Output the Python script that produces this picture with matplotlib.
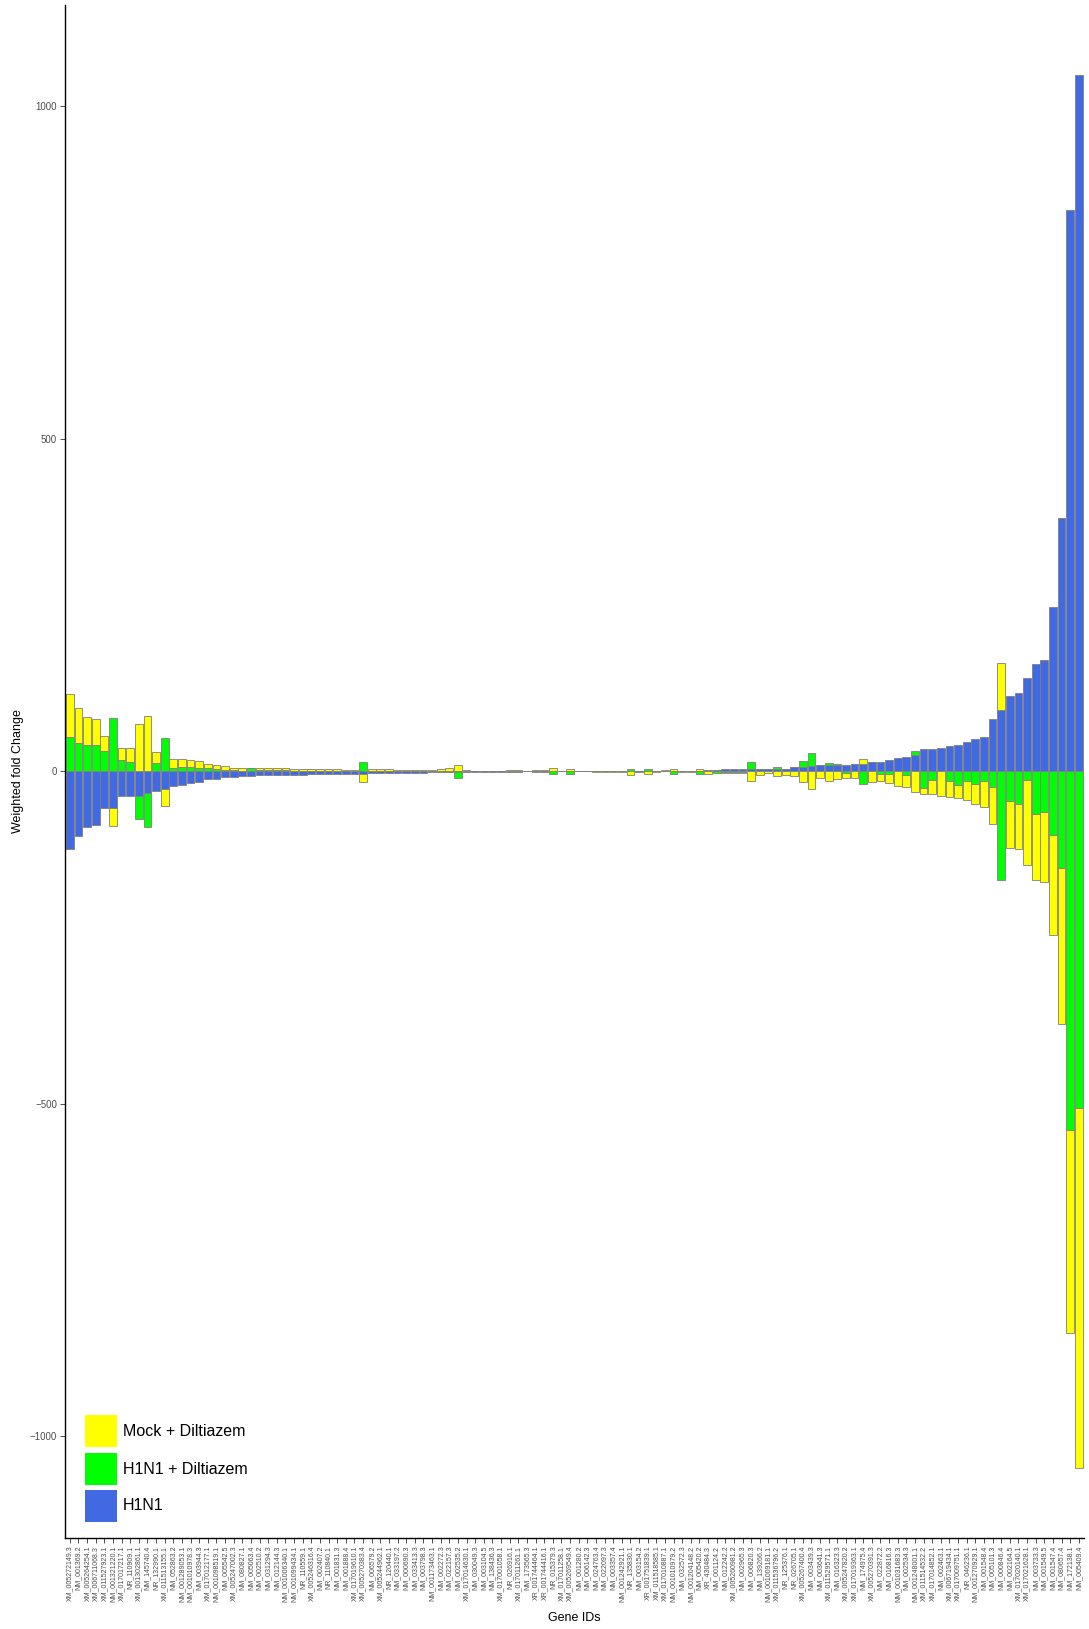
import numpy as np
import matplotlib
matplotlib.use("Agg")
import matplotlib.pyplot as plt
from matplotlib.patches import Rectangle

plt.rcParams['font.family'] = ['Liberation Sans', 'DejaVu Sans']

genes = [
    "XM_005272149.3", "NM_001369.2", "XM_005264254.1", "XM_006711068.3", "XM_011527923.1",
    "NM_001321220.1", "XM_017017217.1", "NR_110909.1", "XM_001302861.1", "NM_145740.4",
    "NR_132990.1", "XM_011513155.1", "NM_052863.2", "NM_001289053.1", "NM_001010978.3",
    "NM_003944.3", "XM_017012177.1", "NM_001098519.1", "NM_005542.5", "XM_005247002.3",
    "NM_080827.1", "NM_005063.4", "NM_002510.2", "NM_031294.3", "NM_012144.3",
    "NM_001006340.1", "NM_001099434.1", "NR_110559.1", "XM_005246316.4", "NM_002407.2",
    "NR_110840.1", "NM_001831.3", "NM_001888.4", "XM_017019610.1", "XM_005270383.4",
    "NM_006579.2", "XM_005244962.1", "NR_120440.1", "NM_033197.2", "NM_000690.3",
    "NM_033413.3", "NM_003798.3", "NM_001173463.1", "NM_002272.3", "NM_022157.3",
    "NM_002535.2", "XM_017014630.1", "NM_030049.3", "NM_003104.5", "NM_138436.3",
    "XM_017001058.1", "NR_026916.1", "XM_017011261.1", "NM_173565.3", "XR_001744464.1",
    "XR_001744416.1", "NR_015379.3", "XM_017011258.1", "XM_005269549.4", "NM_001280.2",
    "NM_006142.3", "NM_024763.4", "NM_022097.3", "NM_003357.4", "NM_001242921.1",
    "NR_135830.1", "NM_003154.2", "XR_001751839.1", "XM_011518585.1", "XM_017010887.1",
    "NM_001010979.2", "NM_032572.3", "NM_001204148.2", "NM_005420.2", "XR_430484.3",
    "NM_001124.2", "NM_012242.2", "XM_005260981.2", "NM_002965.3", "NM_006820.3",
    "NM_139266.2", "NM_001009181.1", "XM_011536796.2", "NR_125376.1", "NR_026705.1",
    "XM_005267400.4", "NM_003439.3", "NM_003641.3", "XM_011529571.1", "NM_016323.3",
    "XM_005247820.2", "XM_017019363.1", "NM_174975.4", "XM_005270391.3", "NM_022872.2",
    "NM_016816.3", "NM_001031683.3", "NM_002534.3", "NM_001248001.1", "XM_011514532.2",
    "XM_017014852.1", "NM_002463.1", "XM_006719434.1", "XM_017009751.1", "NR_046236.1",
    "NM_001270929.1", "NM_001548.4", "NM_005101.3", "NM_000846.4", "NM_002164.5",
    "XM_017020140.1", "XM_017021628.1", "NM_003733.3", "NM_001549.5", "NM_001547.4",
    "NM_080657.4", "NM_172138.1", "NM_005409.4",
]

h1n1 = [
    -117.5, -97, -84, -81, -55, -55, -37, -37, -37, -33.5,
    -30, -27, -22.5, -21, -18.5, -16, -12.5, -12, -9.5, -8.5,
    -8, -7, -6.5, -6, -6, -6, -6, -5.5, -5, -4.5,
    -4.5, -4, -4, -4, -5, -3.5, -3.5, -3, -3, -3,
    -2.5, -2.5, -2, -2, -1.5, -1, -1, -1, -0.8, -0.8,
    -0.6, -1, -0.8, -0.5, -1, -1, -0.5, -0.3, -0.5, -0.3,
    -0.3, -0.5, -0.5, -0.5, -0.5, -0.5, -0.5, -0.5, -0.5, -0.5,
    -0.5, -0.5, 0.5, 0.5, 2, 2, 3, 3, 3, 4,
    3, 3, 3, 3.5, 6, 7, 8, 9, 9, 10,
    10, 11, 11, 14, 13.5, 17.5, 20.5, 22, 24.5, 33,
    33, 35, 38.5, 40, 43.5, 48.5, 52, 78, 92, 113.5,
    117, 140, 161.5, 167, 247.5, 380, 844, 1047,
]

h1n1_diltiazem = [
    51.5, 43, 39.5, 39.5, 30.5, 80, 17.5, 14.5, -35.5, -50.5,
    12.5, 50.5, 5.5, 6.5, 6.5, 5.5, 5.5, 4, 2.5, 2,
    0.5, 5, 2.5, 2, 2, 2, 0.5, 0.5, 1, 0.5,
    0.5, 0.5, 0.5, 1, 14, 0.5, 0.5, 0.5, 0.3, 0.3,
    0.3, 0.3, 0.3, 0.3, 0.5, -10, 0.3, 0.3, 0.2, 0.2,
    0.2, 0.5, 0.5, 0.2, 0.3, 0.5, -4, 0.2, -4.5, 0.1,
    0.1, 0.5, 0.5, 0.6, 1, 4, -1, 4, 0.8, 0.5,
    -4.5, 0.5, 0.5, -4.5, 0.5, -2.5, -1, -1.5, -1.5, 10,
    0.5, 0.5, 4, 0.5, 0.5, 8, 19, 0.5, 4, 0.5,
    -3, 0.5, -20, 0.5, -4.5, -5, -0.5, -6.5, 6, -25,
    -13.5, -0.5, -15.5, -21.5, -15.5, -19, -15.5, -24, -163, -45,
    -50, -14, -65, -61, -96, -146, -539, -507,
]

mock_diltiazem = [
    64, 51.5, 42.5, 38.5, 22.5, -27, 17.5, 20.5, 71.5, 82.5,
    16, -26, 13, 12, 10, 9.5, 6, 6, 5, 3.5,
    5, 0.5, 2.5, 2.5, 2.5, 2.5, 3.5, 3.5, 3, 3,
    2.5, 2.5, 2, 1, -11, 2.5, 2.5, 2.5, 1, 1,
    2, 1, 1, 2.5, 5, 9, 0.8, 0.6, 0.6, 0.5,
    0.5, 1.5, 1.2, 0.4, 1.5, 1.5, 5, 0.3, 4, 0.3,
    0.3, -0.5, -0.8, -0.8, -1, -5, 1, -4.5, -0.8, 1,
    3.5, -1.5, -1, 3.5, -4, 0.5, -1.5, -1.5, -1.5, -15,
    -6, -2.5, -8, -6, -8, -17, -27, -11, -15, -12,
    -8, -11, 8, -17, -11, -13.5, -22.5, -17, -32, -10,
    -21, -36.5, -23.5, -19, -28.5, -31, -38, -55, 70, -70,
    -67.5, -127, -98, -106, -150.5, -234, -305, -541,
]

series = [
    ("H1N1", h1n1, "#4169E1"),
    ("H1N1 + Diltiazem", h1n1_diltiazem, "#00FF00"),
    ("Mock + Diltiazem", mock_diltiazem, "#FFFF00"),
]
y_ticks = [-1000, -500, 0, 500, 1000]

W, H = 1089, 1629
fig = plt.figure(figsize=(W / 100, H / 100), dpi=100)
left, right, top, bottom = 64.7, 1084, 5, 1538
ax = fig.add_axes([left / W, 1 - bottom / H, (right - left) / W, (bottom - top) / H])

n = len(genes)
x = np.arange(1, n + 1)
pos_base = np.zeros(n)
neg_base = np.zeros(n)
for name, vals, color in series:
    v = np.array(vals, dtype=float)
    base = np.where(v >= 0, pos_base, neg_base)
    ax.bar(x, v, width=0.9, bottom=base, color=color, edgecolor="#7F7F7F",
           linewidth=0.6, zorder=2)
    pos_base += np.where(v >= 0, v, 0)
    neg_base += np.where(v < 0, v, 0)

allv = np.concatenate([pos_base, neg_base])
lo, hi = allv.min(), allv.max()
pad = 0.05 * (hi - lo)
ax.set_ylim(lo - pad, hi + pad)
ax.set_xlim(0.4, n + 0.6)

ax.set_xticks(x)
ax.set_xticklabels(genes, rotation=90, fontsize=5, color="#4D4D4D")
ax.set_yticks(y_ticks)
ax.set_yticklabels([str(t).replace("-", "\u2212") for t in y_ticks], fontsize=7, color="#4D4D4D")
ax.tick_params(axis="both", length=3.5, width=0.6, color="#333333", pad=2)

for s in ["top", "right"]:
    ax.spines[s].set_visible(False)
for s in ["left", "bottom"]:
    ax.spines[s].set_linewidth(1.0)
    ax.spines[s].set_color("black")

fig.text(18.5 / W, 1 - 771.5 / H, "Weighted fold Change", rotation=90,
         ha="center", va="center", fontsize=9)
fig.text((left + right) / 2 / W, 1 - 1618 / H, "Gene IDs", ha="center",
         va="center", fontsize=9)

# legend
legend_items = [series[2], series[1], series[0]]
key_x, key_w = 85, 32
key_tops = [1415, 1453, 1490]
for (name, _, color), kt in zip(legend_items, key_tops):
    fig.add_artist(Rectangle((key_x / W, 1 - (kt + key_w) / H), key_w / W, key_w / H,
                             transform=fig.transFigure, facecolor=color,
                             edgecolor="none", zorder=5))
    fig.text(122.6 / W, 1 - (kt + key_w / 2) / H, name, ha="left", va="center",
             fontsize=11.5)

fig.savefig("out.png", dpi=100)
